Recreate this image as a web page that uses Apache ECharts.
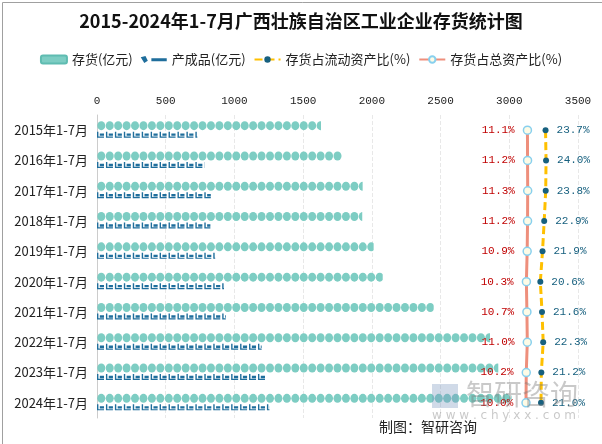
<!DOCTYPE html>
<html><head><meta charset="utf-8">
<script src="https://cdn.jsdelivr.net/npm/echarts@6/dist/echarts.min.js"></script>
<style>html,body{margin:0;padding:0;background:#fff}#c{width:602px;height:444px}</style>
</head><body><div id="c"></div>
<script>
const categories = ['2015年1-7月','2016年1-7月','2017年1-7月','2018年1-7月','2019年1-7月','2020年1-7月','2021年1-7月','2022年1-7月','2023年1-7月','2024年1-7月'];
const inventory = [1630, 1782, 1933, 1930, 2013, 2079, 2450, 2860, 2920, 3017];
const finished = [730, 781, 828, 825, 860, 925, 937, 1198, 1222, 1255];
const ratioCurrent = [23.7, 24.0, 23.8, 22.9, 21.9, 20.6, 21.6, 22.3, 21.2, 21.0];
const ratioTotal = [11.1, 11.2, 11.3, 11.2, 10.9, 10.3, 10.7, 11.0, 10.2, 10.0];
const xTicks = [0, 500, 1000, 1500, 2000, 2500, 3000, 3500];

const chart = echarts.init(document.getElementById('c'));
const mono = 'Liberation Mono';
const cjk = '"Noto Sans CJK SC", sans-serif';
chart.setOption({
  backgroundColor: '#fff',
  animation: false,
  title: {
    text: '2015-2024年1-7月广西壮族自治区工业企业存货统计图',
    left: 'center', top: 7,
    textStyle: {fontSize: 18, fontWeight: 'bold', color: '#111', fontFamily: cjk}
  },
  legend: {
    top: 48, left: 'center', itemGap: 8, itemWidth: 26, itemHeight: 8,
    textStyle: {fontSize: 13, color: '#222', fontFamily: cjk},
    data: [
      {name: '存货(亿元)', icon: 'roundRect'},
      {name: '产成品(亿元)', icon: 'path://M0,1 L4,0 L6,4 L3,6 Z M9,2 L22,2 L22,4.5 L9,4.5 Z'},
      {name: '存货占流动资产比(%)'},
      {name: '存货占总资产比(%)'}
    ]
  },
  grid: {left: 97, right: 24, top: 115, height: 303},
  xAxis: [
    {type: 'value', position: 'top', min: xTicks[0], max: xTicks[xTicks.length - 1], interval: 500,
     axisLine: {show: false}, axisTick: {show: false},
     axisLabel: {fontFamily: mono, fontSize: 11, color: '#222', margin: 8, formatter: v => String(v)},
     splitLine: {lineStyle: {color: '#e8e8e8', type: 'dashed'}}},
    {type: 'value', show: false, min: -320, max: 50},
    {type: 'value', show: false, min: -243, max: 43}
  ],
  yAxis: {
    type: 'category', inverse: true, data: categories,
    axisLine: {lineStyle: {color: '#cccccc'}}, axisTick: {show: false},
    axisLabel: {fontSize: 13, color: '#222', margin: 9, fontFamily: cjk}
  },
  graphic: [
    {type: 'rect', left: 0, top: 0, shape: {width: 601, height: 443},
     style: {fill: 'none', stroke: '#a0a0a0', lineWidth: 1}, z: 100},
    {type: 'text', left: 379, top: 420, style: {text: '制图：智研咨询', font: '14px "Noto Sans CJK SC"', fill: '#222'}, z: 100},
    {type: 'rect', left: 432, top: 384, shape: {width: 26, height: 24},
     style: {fill: 'rgba(120,150,190,0.35)'}, z: 99},
    {type: 'text', left: 466, top: 380, style: {text: '智研咨询', font: '28px "Noto Sans CJK SC"', fill: 'rgba(120,120,120,0.4)'}, z: 99},
    {type: 'text', left: 432, top: 410, style: {text: 'w w w . c h y x x . c o m', font: '12px "DejaVu Sans"', fill: 'rgba(120,120,120,0.4)'}, z: 99}
  ],
  series: [
    {name: '存货(亿元)', type: 'pictorialBar', xAxisIndex: 0, data: inventory,
     symbol: 'circle', symbolRepeat: true, symbolClip: true, symbolSize: [8, 9], symbolMargin: 0,
     symbolOffset: [0, -4.5],
     itemStyle: {color: '#7dcdc3', borderColor: '#5fbcb1', borderWidth: 0.6}, z: 3},
    {name: '产成品(亿元)', type: 'pictorialBar', xAxisIndex: 0, data: finished,
     symbol: 'path://M0,0 L2,0 L2,8 L10,8 L10,10 L0,10 Z M4,3 L10,3 L10,7 L4,7 Z',
     symbolRepeat: true, symbolClip: true, symbolSize: [7, 6], symbolMargin: 1,
     symbolOffset: [0, 4.5],
     itemStyle: {color: '#1f6e9c'}, z: 3},
    {name: '存货占流动资产比(%)', type: 'line', xAxisIndex: 2, data: ratioCurrent,
     symbol: 'circle', symbolSize: 6,
     lineStyle: {color: '#ffc000', width: 3, type: [8, 4]},
     itemStyle: {color: '#17607f'},
     label: {show: true, position: 'right', distance: 8, formatter: p => p.value.toFixed(1) + '%',
       color: '#17607f', fontFamily: mono, fontSize: 11}, z: 5},
    {name: '存货占总资产比(%)', type: 'line', xAxisIndex: 1, data: ratioTotal,
     symbol: 'circle', symbolSize: 8,
     lineStyle: {color: '#ee8f7c', width: 3},
     itemStyle: {color: '#fdfbe6', borderColor: '#88d0ee', borderWidth: 1.5},
     label: {show: true, position: 'left', distance: 8, formatter: p => p.value.toFixed(1) + '%',
       color: '#c00000', fontFamily: mono, fontSize: 11}, z: 5}
  ]
});
</script></body></html>
